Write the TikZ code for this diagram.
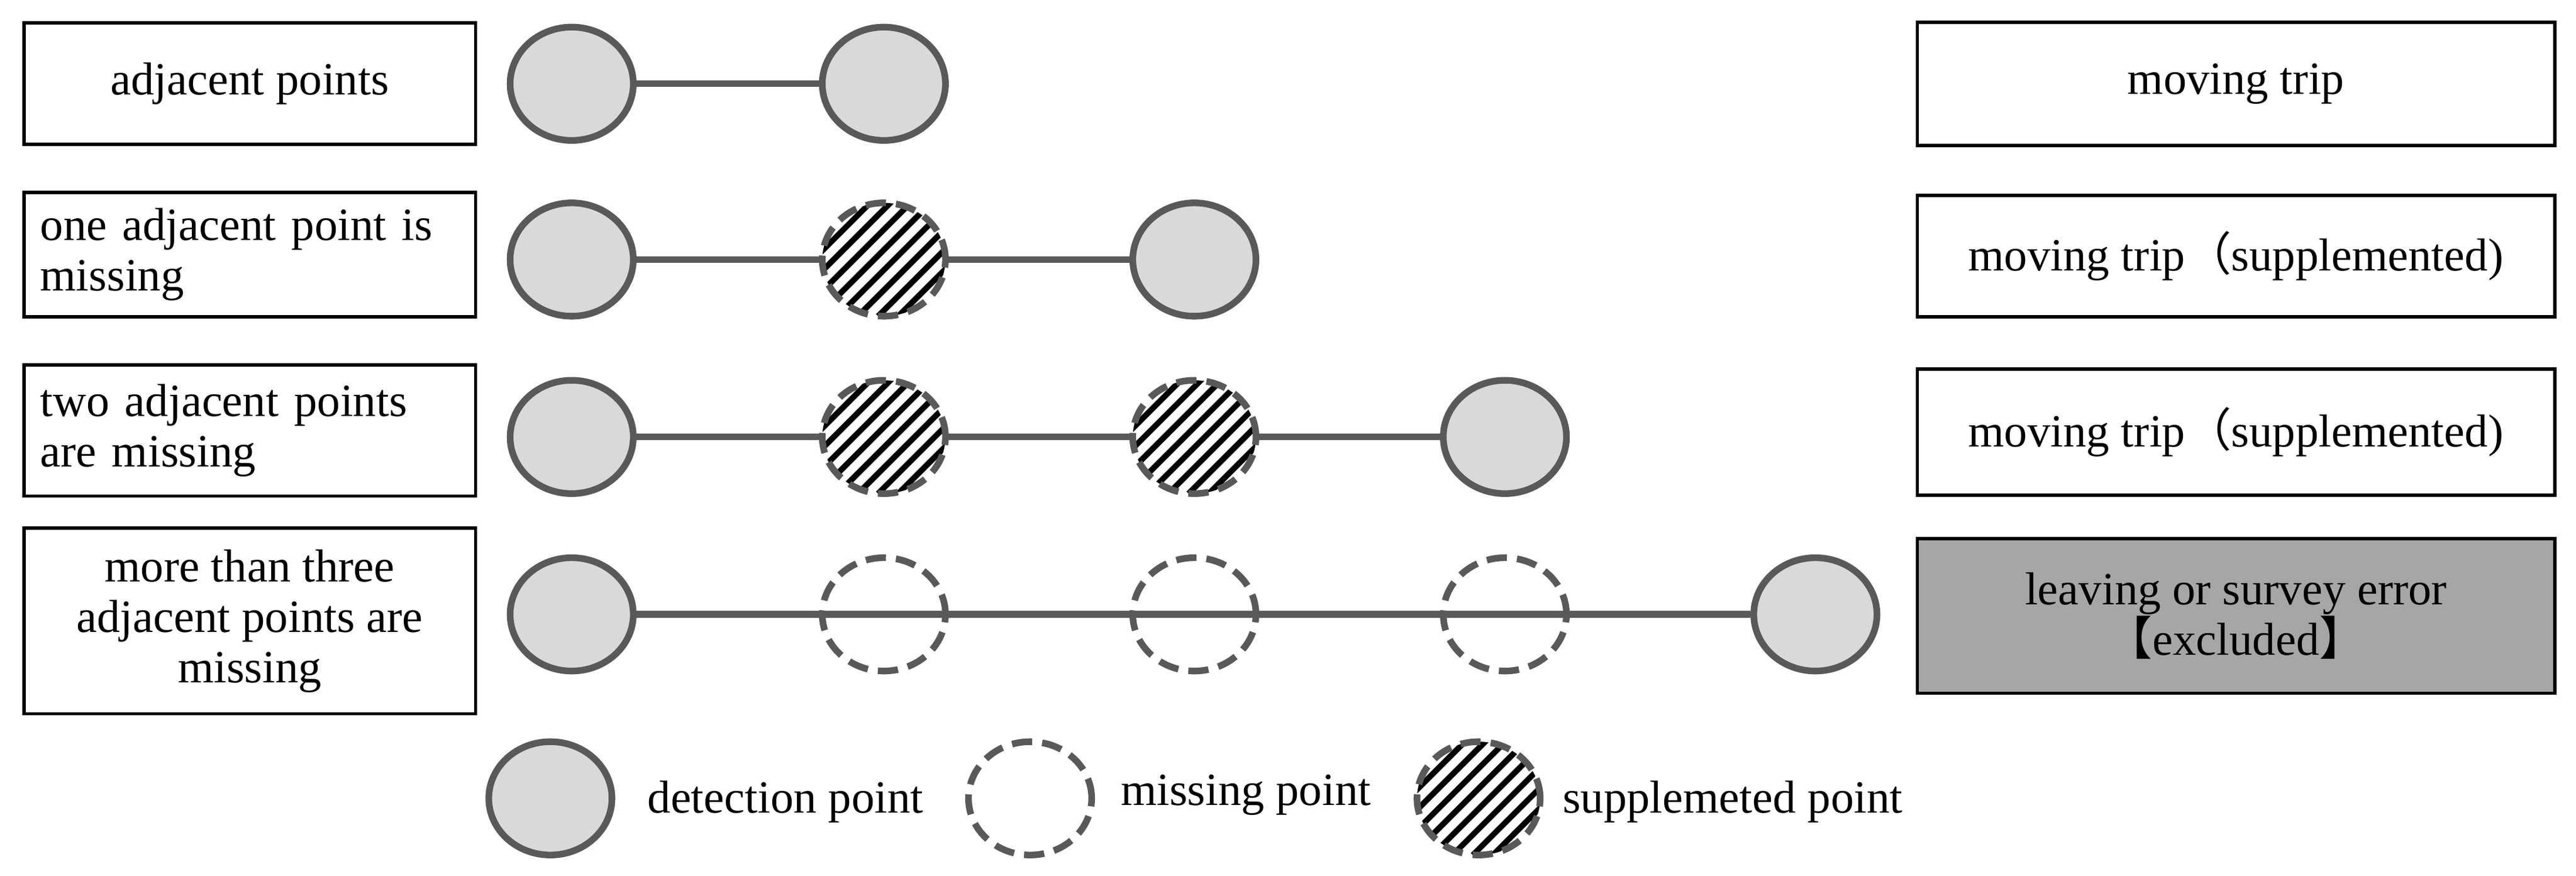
\documentclass[tikz,border=0pt]{standalone}
\usepackage{fontspec}
\setmainfont{Liberation Serif}
\newfontfamily\cjkf{Noto Sans CJK SC}
\usetikzlibrary{shapes.geometric}
\definecolor{edge}{HTML}{595959}
\definecolor{pt}{HTML}{D9D9D9}
\definecolor{ex}{HTML}{A6A6A6}
\begin{document}
\begin{tikzpicture}[x=0.02cm,y=-0.02cm,
  font=\fontsize{16}{17.5}\selectfont,
  lbox/.style={draw=black,line width=1.2pt,minimum width=5.5cm,align=center},
  rbox/.style={draw=black,line width=1.2pt,minimum width=7.76cm,align=center},
  det/.style={ellipse,draw=edge,fill=pt,line width=2.3pt,minimum width=1.5cm,minimum height=1.38cm},
  mis/.style={ellipse,draw=edge,fill=white,dash pattern=on 7pt off 3.5pt,line width=2.3pt,minimum width=1.5cm,minimum height=1.38cm},
  sup/.style={mis,path picture={\foreach \i in {-10,...,10}{\draw[solid,line width=2pt,black] ([xshift=\i*7pt-30pt]path picture bounding box.south) -- ++(60pt,60pt);}}},
  conn/.style={draw=edge,line width=2.3pt}]
\useasboundingbox (0,0) rectangle (1568,533);
% left boxes
\node[lbox,minimum height=1.48cm] (l1) at (152,51) {adjacent points};
\node[lbox,minimum height=1.52cm,align=left,text width=5.1cm] (l2) at (152,155) {one adjacent point is\\missing};
\node[lbox,minimum height=1.6cm,align=left,text width=5.1cm] (l3) at (152,262) {two adjacent points\\are missing};
\node[lbox,minimum height=2.26cm] (l4) at (152,378) {more than three\\adjacent points are\\missing};
% right boxes
\node[rbox,minimum height=1.5cm] (r1) at (1361,51) {moving trip};
\node[rbox,minimum height=1.48cm] (r2) at (1361,156) {moving trip{\cjkf （}supplemented)};
\node[rbox,minimum height=1.54cm] (r3) at (1361,263) {moving trip{\cjkf （}supplemented)};
\node[rbox,minimum height=1.88cm,fill=ex] (r4) at (1361,375) {leaving or survey error\\{\cjkf 【}excluded{\cjkf 】}};
% row1
\node[det] (a1) at (348,51) {}; \node[det] (a2) at (538,51) {};
\draw[conn] (a1) -- (a2);
% row2
\node[det] (b1) at (348,158) {}; \node[sup] (b2) at (538,158) {}; \node[det] (b3) at (727,158) {};
\draw[conn] (b1) -- (b2); \draw[conn] (b2) -- (b3);
% row3
\node[det] (c1) at (348,266) {}; \node[sup] (c2) at (538,266) {}; \node[sup] (c3) at (727,266) {}; \node[det] (c4) at (916,266) {};
\draw[conn] (c1) -- (c2); \draw[conn] (c2) -- (c3); \draw[conn] (c3) -- (c4);
% row4
\node[det] (d1) at (348,374) {}; \node[det] (d5) at (1105,374) {};
\draw[conn] (d1) -- (d5);
\node[mis,fill=none] (d2) at (538,374) {}; \node[mis,fill=none] (d3) at (727,374) {}; \node[mis,fill=none] (d4) at (916,374) {};
% legend
\node[det] (g1) at (335,486) {};
\node[anchor=west] (t1) at (388,488) {detection point};
\node[mis] (g2) at (627,486) {};
\node[anchor=west] (t2) at (676,484) {missing point};
\node[sup] (g3) at (900,486) {};
\node[anchor=west] (t3) at (945,488) {supplemeted point};
\end{tikzpicture}
\end{document}
